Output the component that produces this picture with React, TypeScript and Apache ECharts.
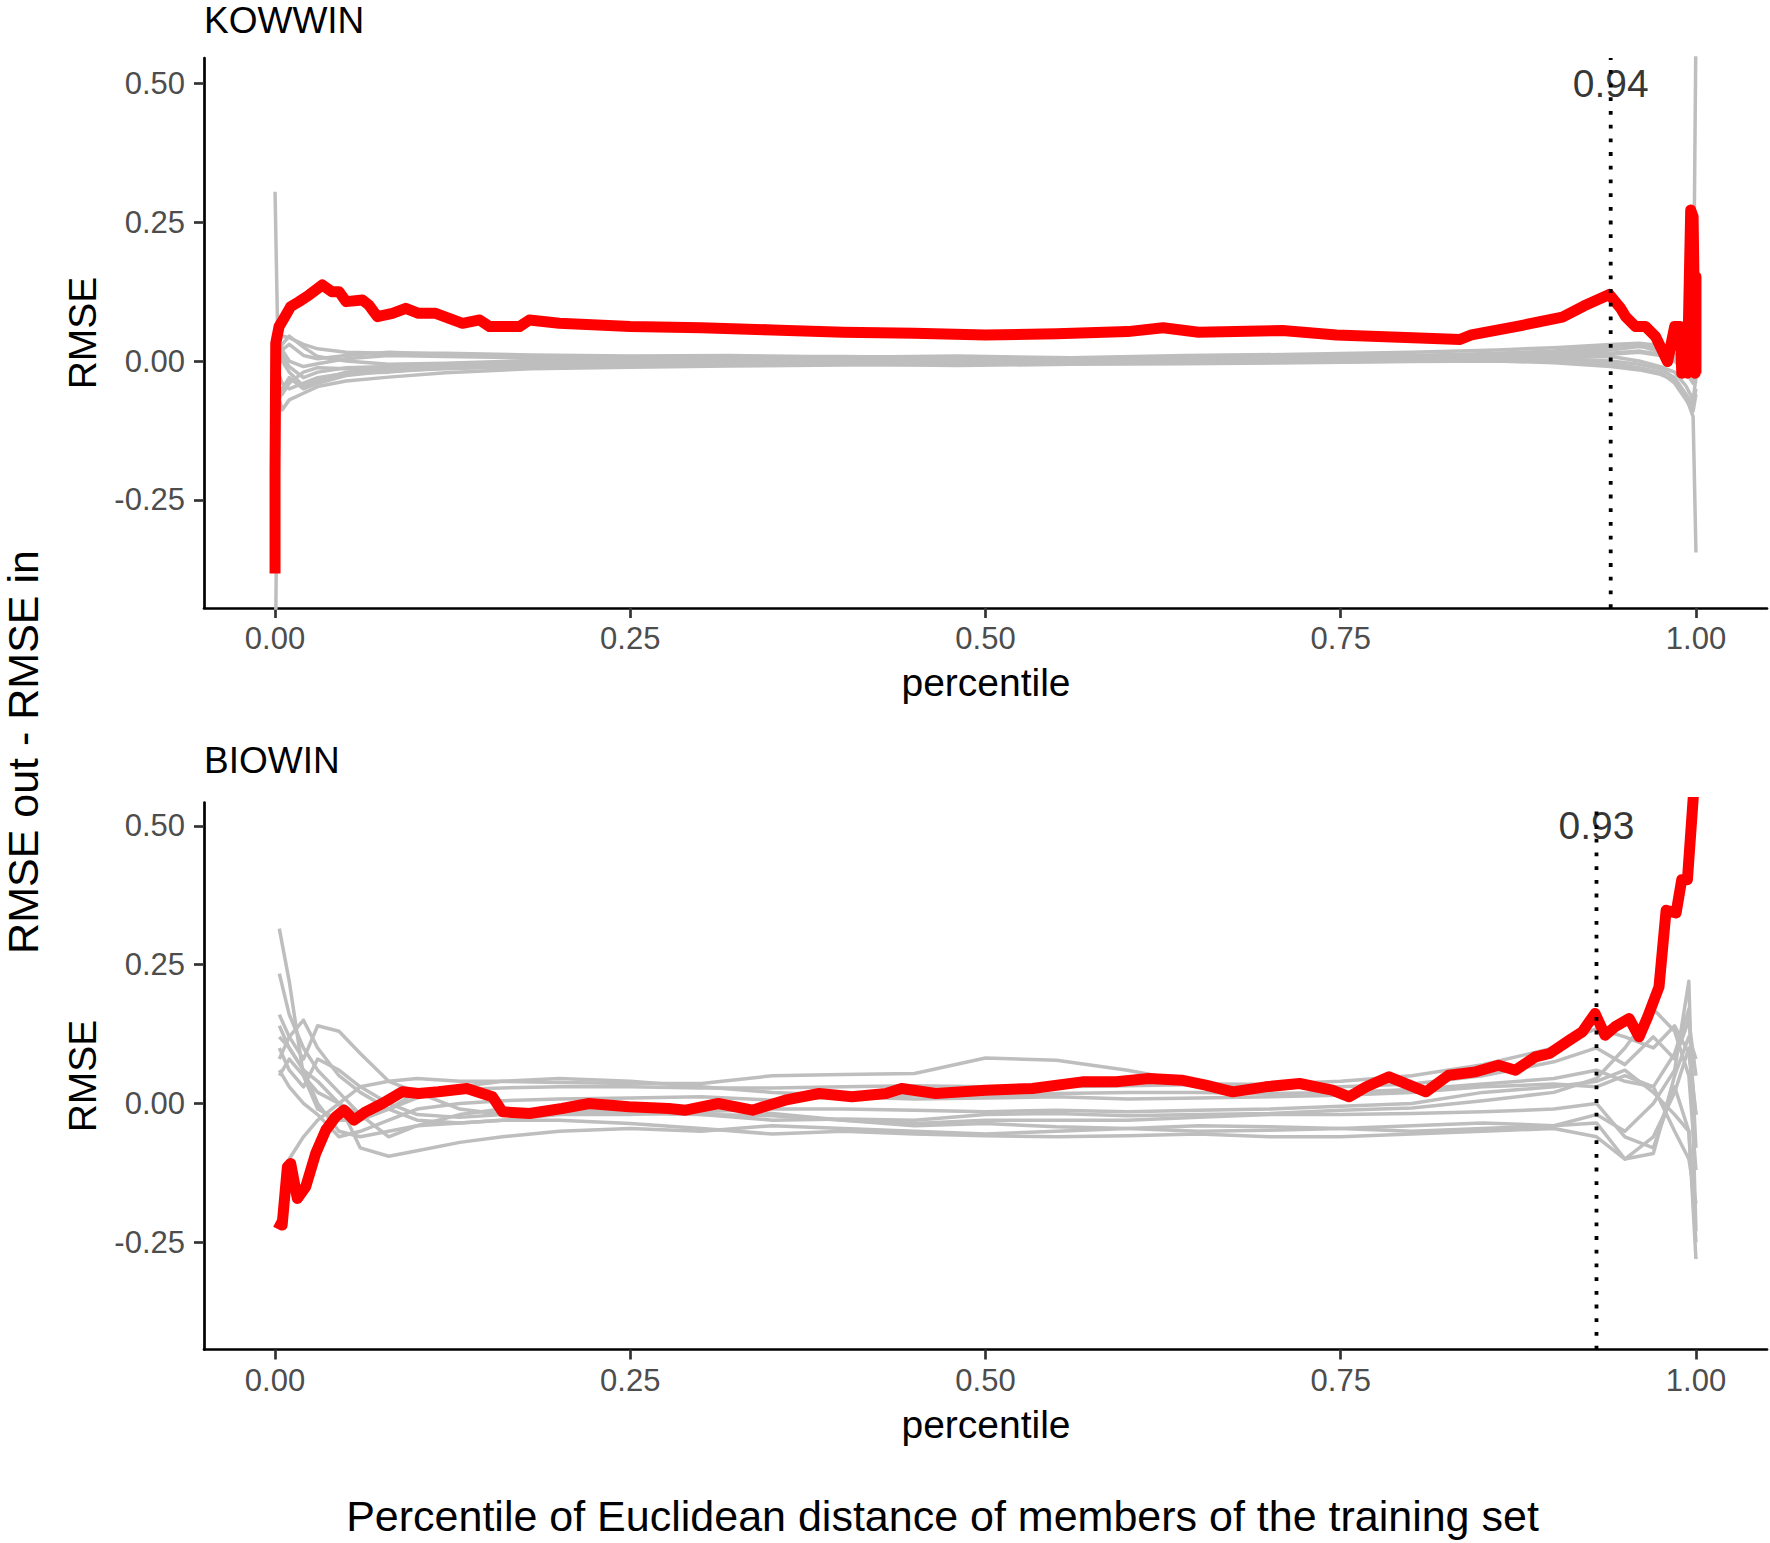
import { useEffect, useRef } from "react";
import * as echarts from "echarts";

// ---------- shared axis settings ----------
const xTicks = [0, 0.25, 0.5, 0.75, 1];
const yTicks = [-0.25, 0, 0.25, 0.5];
const xMin = -0.05;
const xMax = 1.05;
const kowYMin = -0.445;
const kowYMax = 0.546;
const bioYMin = -0.443;
const bioYMax = 0.542;
const labelY = 0.5;

// ---------- KOWWIN ----------
const kowThreshold = 0.94;
const kowRedX = [0, 0.0, 0.0005, 0.0028, 0.0063, 0.011, 0.0169, 0.024, 0.0333, 0.04, 0.045, 0.05, 0.0615, 0.066, 0.072, 0.0826, 0.092, 0.101, 0.113, 0.132, 0.144, 0.151, 0.172, 0.179, 0.2, 0.25, 0.3, 0.35, 0.4, 0.45, 0.5, 0.55, 0.6, 0.625, 0.65, 0.709, 0.747, 0.791, 0.834, 0.842, 0.875, 0.906, 0.921, 0.939, 0.947, 0.9505, 0.9575, 0.9646, 0.9716, 0.98, 0.985, 0.989, 0.99, 0.993, 0.994, 0.9963, 0.998, 0.9995, 1.0, 1.0];
const kowRedY = [-0.383, -0.2, 0.032, 0.062, 0.077, 0.098, 0.107, 0.119, 0.137, 0.125, 0.125, 0.107, 0.11, 0.101, 0.08, 0.086, 0.095, 0.086, 0.086, 0.068, 0.074, 0.062, 0.062, 0.074, 0.068, 0.062, 0.06, 0.056, 0.052, 0.05, 0.047, 0.049, 0.053, 0.06, 0.052, 0.055, 0.047, 0.043, 0.039, 0.047, 0.063, 0.079, 0.099, 0.12, 0.095, 0.08, 0.062, 0.062, 0.044, -0.001, 0.062, 0.062, -0.022, 0.04, -0.022, 0.272, 0.26, -0.022, 0.152, -0.022];

const kowX = [0, 0.002, 0.005, 0.01, 0.02, 0.03, 0.05, 0.08, 0.12, 0.18, 0.25, 0.32, 0.4, 0.48, 0.56, 0.64, 0.72, 0.8, 0.86, 0.9, 0.94, 0.96, 0.975, 0.985, 0.993, 0.998, 1.0];
const kowGray1 = [0.305, 0.03, 0.045, 0.042, 0.03, 0.022, 0.016, 0.014, 0.014, 0.011, 0.009, 0.01, 0.007, 0.009, 0.006, 0.01, 0.012, 0.016, 0.02, 0.024, 0.03, 0.032, 0.028, 0.022, 0.015, 0.01, 0.6];
const kowGray2 = [-0.6, -0.06, -0.088, -0.07, -0.058, -0.046, -0.036, -0.029, -0.021, -0.014, -0.011, -0.009, -0.007, -0.006, -0.005, -0.005, -0.003, -0.001, 0.0, -0.003, -0.01, -0.016, -0.024, -0.035, -0.065, -0.1, -0.345];
const kowGray3 = [null, 0.01, 0.03, 0.045, 0.025, 0.008, 0.0, -0.006, -0.004, 0.001, 0.004, 0.006, 0.003, 0.002, 0.0, 0.003, 0.006, 0.008, 0.01, 0.012, 0.02, 0.026, 0.022, 0.012, 0.005, 0.0, -0.01];
const kowGray4 = [null, -0.02, -0.04, -0.05, -0.04, -0.03, -0.022, -0.02, -0.012, -0.008, -0.004, -0.002, -0.003, -0.004, -0.002, 0.0, 0.002, 0.004, 0.006, 0.004, 0.0, -0.006, -0.014, -0.03, -0.06, -0.08, -0.05];
const kowGray5 = [null, 0.0, 0.01, -0.01, -0.03, -0.02, -0.012, -0.01, -0.008, -0.004, 0.0, 0.002, 0.001, -0.001, -0.003, -0.001, 0.003, 0.005, 0.008, 0.01, 0.014, 0.018, 0.012, 0.0, -0.02, -0.04, -0.02];
const kowGray6 = [null, 0.04, 0.02, 0.0, -0.01, -0.005, 0.004, 0.01, 0.008, 0.006, 0.006, 0.008, 0.008, 0.006, 0.004, 0.006, 0.008, 0.01, 0.014, 0.018, 0.026, 0.03, 0.02, 0.01, 0.0, -0.01, 0.01];
const kowGray7 = [null, -0.04, -0.06, -0.04, -0.02, -0.012, -0.014, -0.016, -0.01, -0.006, -0.005, -0.004, -0.006, -0.008, -0.006, -0.004, -0.002, 0.0, 0.002, 0.0, -0.005, -0.012, -0.02, -0.04, -0.07, -0.09, -0.06];
const kowGray8 = [null, 0.02, 0.0, -0.02, -0.045, -0.035, -0.02, -0.012, -0.006, -0.002, 0.002, 0.004, 0.002, 0.0, -0.002, 0.002, 0.004, 0.006, 0.01, 0.014, 0.022, 0.028, 0.016, 0.004, -0.01, -0.03, -0.04];
const kowGray9 = [null, -0.01, 0.02, 0.03, 0.01, 0.004, 0.01, 0.016, 0.012, 0.008, 0.006, 0.004, 0.004, 0.004, 0.002, 0.004, 0.005, 0.007, 0.008, 0.008, 0.012, 0.016, 0.01, 0.004, 0.0, -0.02, 0.0];
const kowGray10 = [null, -0.08, -0.05, -0.03, -0.05, -0.04, -0.026, -0.018, -0.014, -0.01, -0.008, -0.006, -0.004, -0.003, -0.004, -0.002, 0.0, 0.002, 0.004, 0.006, 0.008, 0.0, -0.01, -0.02, -0.045, -0.07, -0.03];

// ---------- BIOWIN ----------
const bioThreshold = 0.93;
const bioRedX = [0.0005, 0.005, 0.0087, 0.011, 0.0157, 0.0216, 0.0286, 0.0357, 0.0427, 0.0486, 0.0556, 0.0638, 0.0755, 0.0896, 0.101, 0.115, 0.135, 0.153, 0.16, 0.179, 0.202, 0.221, 0.249, 0.277, 0.289, 0.312, 0.336, 0.359, 0.383, 0.406, 0.43, 0.441, 0.465, 0.5, 0.533, 0.568, 0.592, 0.615, 0.638, 0.655, 0.674, 0.697, 0.721, 0.744, 0.756, 0.768, 0.784, 0.81, 0.826, 0.845, 0.861, 0.873, 0.887, 0.897, 0.911, 0.92, 0.929, 0.936, 0.943, 0.953, 0.96, 0.966, 0.974, 0.979, 0.986, 0.99, 0.994, 1.0];
const bioRedY = [-0.213, -0.219, -0.114, -0.108, -0.171, -0.15, -0.09, -0.048, -0.024, -0.012, -0.03, -0.015, 0.0, 0.021, 0.018, 0.021, 0.027, 0.012, -0.015, -0.018, -0.009, 0.0, -0.006, -0.009, -0.012, 0.0, -0.012, 0.006, 0.018, 0.012, 0.018, 0.027, 0.018, 0.024, 0.027, 0.039, 0.039, 0.045, 0.042, 0.033, 0.021, 0.03, 0.036, 0.024, 0.012, 0.03, 0.048, 0.021, 0.051, 0.057, 0.069, 0.06, 0.084, 0.09, 0.114, 0.129, 0.162, 0.123, 0.138, 0.153, 0.12, 0.156, 0.21, 0.348, 0.343, 0.403, 0.403, 0.62];

const bioX = [0.003, 0.01, 0.02, 0.03, 0.045, 0.06, 0.08, 0.1, 0.13, 0.16, 0.2, 0.25, 0.3, 0.35, 0.4, 0.45, 0.5, 0.55, 0.6, 0.65, 0.7, 0.75, 0.8, 0.85, 0.9, 0.93, 0.95, 0.97, 0.985, 0.995, 1.0];
const bioGray1 = [0.315, 0.22, 0.05, -0.01, -0.03, -0.03, -0.01, 0.01, 0.03, 0.04, 0.038, 0.036, 0.036, 0.05, 0.052, 0.054, 0.082, 0.078, 0.06, 0.036, 0.032, 0.03, 0.035, 0.05, 0.075, 0.1, 0.07, 0.12, 0.08, 0.15, 0.05];
const bioGray2 = [0.234, 0.16, 0.1, 0.06, 0.02, -0.02, -0.06, -0.04, -0.02, -0.01, -0.012, -0.006, -0.006, -0.018, -0.03, -0.04, -0.036, -0.042, -0.045, -0.05, -0.048, -0.045, -0.04, -0.035, -0.04, -0.02, -0.05, 0.0, 0.06, 0.22, -0.23];
const bioGray3 = [0.16, 0.12, 0.08, 0.14, 0.13, 0.09, 0.04, 0.02, -0.01, -0.02, -0.015, -0.012, -0.02, -0.03, -0.028, -0.03, -0.02, -0.018, -0.022, -0.02, -0.018, -0.012, -0.008, 0.005, 0.02, 0.045, 0.1, 0.17, 0.13, 0.05, -0.12];
const bioGray4 = [0.14, 0.1, 0.06, 0.04, 0.0, -0.08, -0.095, -0.085, -0.07, -0.06, -0.05, -0.045, -0.05, -0.04, -0.045, -0.05, -0.055, -0.05, -0.045, -0.04, -0.042, -0.045, -0.05, -0.045, -0.04, -0.035, -0.1, -0.06, 0.02, 0.1, -0.02];
const bioGray5 = [0.1, 0.06, 0.03, 0.08, 0.06, 0.03, 0.0, -0.02, -0.025, -0.02, -0.015, -0.018, -0.02, -0.022, -0.03, -0.036, -0.03, -0.03, -0.03, -0.025, -0.02, -0.02, -0.018, -0.015, -0.01, 0.0, -0.06, -0.08, 0.03, -0.05, -0.28];
const bioGray6 = [0.08, 0.12, 0.15, 0.1, 0.05, 0.02, -0.01, -0.03, -0.035, -0.03, -0.03, -0.036, -0.045, -0.055, -0.05, -0.055, -0.058, -0.06, -0.058, -0.055, -0.06, -0.06, -0.055, -0.05, -0.045, -0.06, -0.1, -0.09, 0.05, 0.12, 0.08];
const bioGray7 = [0.05, 0.08, 0.05, 0.02, 0.0, -0.02, -0.01, 0.02, 0.025, 0.028, 0.03, 0.03, 0.028, 0.028, 0.03, 0.032, 0.03, 0.03, 0.032, 0.034, 0.035, 0.04, 0.05, 0.07, 0.1, 0.135, 0.12, 0.1, 0.14, 0.09, -0.02];
const bioGray8 = [-0.21, -0.1, -0.06, -0.03, 0.0, 0.03, 0.04, 0.045, 0.04, 0.04, 0.045, 0.04, 0.03, 0.02, 0.015, 0.015, 0.012, 0.018, 0.02, 0.02, 0.018, 0.02, 0.025, 0.035, 0.045, 0.06, 0.04, 0.03, 0.09, 0.17, -0.08];
const bioGray9 = [0.06, 0.03, 0.0, -0.02, -0.06, -0.05, -0.03, -0.01, 0.0, 0.005, 0.008, 0.01, 0.012, 0.006, 0.012, 0.008, 0.01, 0.012, 0.008, 0.01, 0.012, 0.015, 0.02, 0.03, 0.035, 0.03, 0.05, 0.03, -0.05, -0.1, -0.18];
const bioGray10 = [0.12, 0.1, 0.06, 0.0, -0.05, -0.06, -0.05, -0.04, -0.035, -0.03, -0.02, -0.02, -0.015, -0.01, -0.01, -0.012, -0.015, -0.012, -0.015, -0.012, -0.01, -0.005, 0.0, 0.02, 0.03, 0.04, 0.06, 0.02, -0.02, -0.05, -0.25];

const kowGrays = [kowGray1, kowGray2, kowGray3, kowGray4, kowGray5, kowGray6, kowGray7, kowGray8, kowGray9, kowGray10];
const bioGrays = [bioGray1, bioGray2, bioGray3, bioGray4, bioGray5, bioGray6, bioGray7, bioGray8, bioGray9, bioGray10];

const FONT = "'Liberation Sans', Arial, Helvetica, sans-serif";
const GRAY = "#BEBEBE";
const RED = "#FF0000";

function pairs(xs: number[], ys: (number | null)[]) {
  const out: number[][] = [];
  xs.forEach((x, i) => {
    const y = ys[i];
    if (y !== null && y !== undefined) out.push([x, y]);
  });
  return out;
}

function makeXAxis(gridIndex: number) {
  return {
    type: "value",
    gridIndex,
    min: xMin,
    max: xMax,
    axisLine: { show: true, onZero: false, lineStyle: { color: "#000", width: 2.7 } },
    axisTick: { show: true, length: 10, customValues: xTicks, lineStyle: { color: "#333", width: 2.7 } },
    axisLabel: {
      show: true,
      customValues: xTicks,
      formatter: (v: number) => v.toFixed(2),
      fontSize: 31,
      color: "#4D4D4D",
      fontFamily: FONT,
      margin: 15,
    },
    splitLine: { show: false },
  };
}

function makeYAxis(gridIndex: number, min: number, max: number) {
  return {
    type: "value",
    gridIndex,
    min,
    max,
    axisLine: { show: true, onZero: false, lineStyle: { color: "#000", width: 2.7 } },
    axisTick: { show: true, length: 10, customValues: yTicks, lineStyle: { color: "#333", width: 2.7 } },
    axisLabel: {
      show: true,
      customValues: yTicks,
      formatter: (v: number) => v.toFixed(2),
      fontSize: 31,
      color: "#4D4D4D",
      fontFamily: FONT,
      margin: 19,
    },
    splitLine: { show: false },
  };
}

function panelSeries(idx: number, grays: (number | null)[][], gx: number[], rx: number[], ry: number[], thr: number, yMin: number, yMax: number) {
  const s: any[] = [];
  grays.forEach((g, i) => {
    s.push({
      type: "line",
      name: `gray${idx}_${i}`,
      xAxisIndex: idx,
      yAxisIndex: idx,
      data: pairs(gx, g),
      symbol: "none",
      silent: true,
      z: 2,
      lineStyle: { color: GRAY, width: 3.5, join: "round" },
    });
  });
  s.push({
    type: "line",
    name: `red${idx}`,
    xAxisIndex: idx,
    yAxisIndex: idx,
    data: pairs(rx, ry),
    symbol: "none",
    silent: true,
    z: 3,
    lineStyle: { color: RED, width: 11, join: "round", cap: "butt" },
  });
  s.push({
    type: "line",
    name: `thr${idx}`,
    xAxisIndex: idx,
    yAxisIndex: idx,
    data: [[thr, yMin], [thr, yMax]],
    symbol: "none",
    silent: true,
    z: 4,
    lineStyle: { color: "#000", width: 3.8, type: [3.8, 9.9], cap: "butt" },
  });
  s.push({
    type: "scatter",
    name: `thrLabel${idx}`,
    xAxisIndex: idx,
    yAxisIndex: idx,
    data: [[thr, labelY]],
    symbolSize: 1,
    silent: true,
    z: 5,
    itemStyle: { color: "rgba(0,0,0,0)" },
    label: {
      show: true,
      position: "inside",
      formatter: thr.toFixed(2),
      fontSize: 39,
      color: "#000",
      fontFamily: FONT,
    },
  });
  return s;
}

function txt(text: string, x: number, y: number, size: number, align: string, rotation = 0) {
  return {
    type: "text",
    x,
    y,
    rotation,
    silent: true,
    style: {
      text,
      fontSize: size,
      fontFamily: FONT,
      fill: "#000",
      align,
      textAlign: align,
      verticalAlign: "middle",
      textVerticalAlign: "middle",
    },
  };
}

export default function App() {
  const ref = useRef<HTMLDivElement>(null);
  useEffect(() => {
    if (!ref.current) return;
    const chart = echarts.init(ref.current, undefined, { renderer: "svg" });
    const option: any = {
      animation: false,
      backgroundColor: "#fff",
      grid: [
        { left: 204, top: 58, width: 1563, height: 550 },
        { left: 204, top: 802.5, width: 1563, height: 547 },
      ],
      xAxis: [makeXAxis(0), makeXAxis(1)],
      yAxis: [makeYAxis(0, kowYMin, kowYMax), makeYAxis(1, bioYMin, bioYMax)],
      series: [
        ...panelSeries(0, kowGrays, kowX, kowRedX, kowRedY, kowThreshold, kowYMin, kowYMax),
        ...panelSeries(1, bioGrays, bioX, bioRedX, bioRedY, bioThreshold, bioYMin, bioYMax),
      ],
      graphic: [
        txt("KOWWIN", 204, 20, 37, "left"),
        txt("BIOWIN", 204, 760, 37, "left"),
        txt("percentile", 986, 682, 39, "center"),
        txt("percentile", 986, 1424, 39, "center"),
        txt("RMSE", 82, 333, 39, "center", Math.PI / 2),
        txt("RMSE", 82, 1076, 39, "center", Math.PI / 2),
        txt("RMSE out - RMSE in", 23, 752, 43, "center", Math.PI / 2),
        txt("Percentile of Euclidean distance of members of the training set", 942.5, 1516, 43, "center"),
      ],
    };
    chart.setOption(option);
    return () => chart.dispose();
  }, []);
  return (
    <div
      ref={ref}
      style={{ position: "absolute", left: 0, top: 0, width: 1770, height: 1543, background: "#fff" }}
    />
  );
}
